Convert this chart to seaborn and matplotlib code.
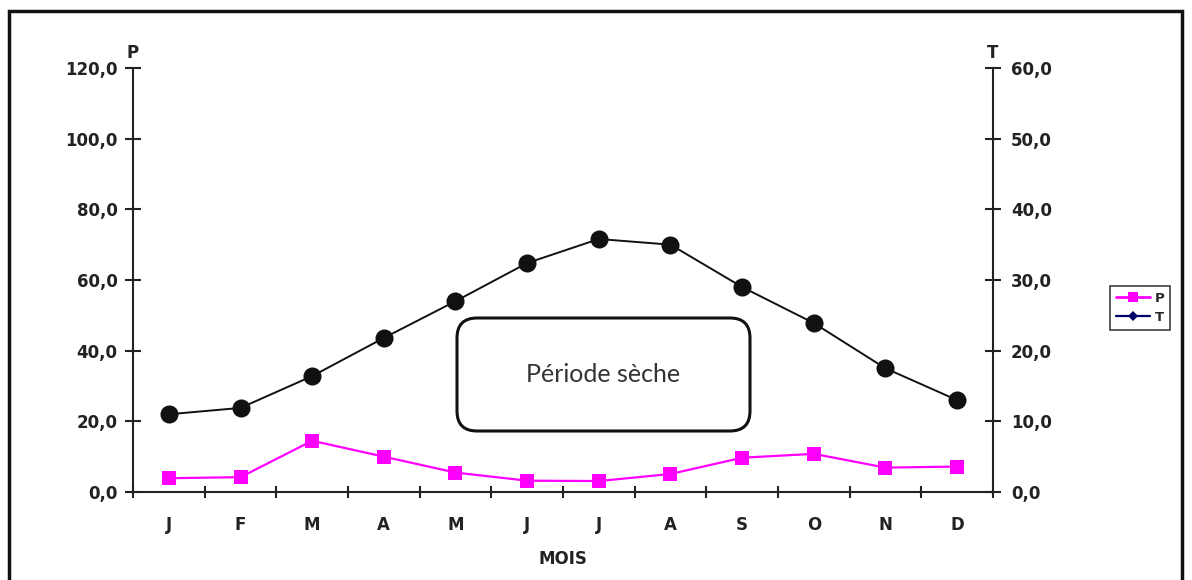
import numpy as np
import pandas as pd
import seaborn as sns
import matplotlib
matplotlib.use("Agg")
import matplotlib.pyplot as plt
from matplotlib.patches import FancyBboxPatch, Rectangle
from matplotlib.lines import Line2D

# ---- data ----
months = ['J', 'F', 'M', 'A', 'M', 'J', 'J', 'A', 'S', 'O', 'N', 'D']
precip = [3.9, 4.2, 14.5, 10.0, 5.5, 3.2, 3.1, 5.1, 9.7, 10.8, 6.9, 7.2]
temp = [11.0, 11.9, 16.4, 21.8, 27.0, 32.4, 35.8, 35.0, 29.0, 23.9, 17.5, 13.0]
left_ticks = [0, 20, 40, 60, 80, 100, 120]
right_ticks = [0, 10, 20, 30, 40, 50, 60]

sns.set_style("white")
plt.rcParams['font.family'] = ['DejaVu Sans']

df = pd.DataFrame({'pos': np.arange(len(months)) + 0.5, 'P': precip, 'T': temp})

fig = plt.figure(figsize=(11.92, 5.8), dpi=100)
ax = fig.add_axes([133/1192, 1 - 492/580, (993-133)/1192, (492-68)/580])
ax2 = ax.twinx()

dark = '#222222'
sns.lineplot(data=df, x='pos', y='P', ax=ax, color='#ff00ff', marker='s',
             markersize=10, markeredgewidth=0, linewidth=1.6)
sns.lineplot(data=df, x='pos', y='T', ax=ax2, color='#111111', marker='o',
             markersize=13, markeredgewidth=0, linewidth=1.4)

ax.set_xlim(0, 12)
ax.set_ylim(0, 120)
ax2.set_ylim(0, 60)

fmt = lambda v: f"{v:.1f}".replace('.', ',')
ax.set_yticks(left_ticks)
ax.set_yticklabels([fmt(v) for v in left_ticks])
ax2.set_yticks(right_ticks)
ax2.set_yticklabels([fmt(v) for v in right_ticks])

ax.set_xticks(np.arange(0, 13))
ax.set_xticklabels([])
ax.set_xticks(np.arange(len(months)) + 0.5, minor=True)
ax.set_xticklabels(months, minor=True)

for a in (ax, ax2):
    for s in a.spines.values():
        s.set_color(dark)
        s.set_linewidth(1.5)
    a.spines['top'].set_visible(False)
    a.set_xlabel('')
    a.set_ylabel('')
ax.spines['right'].set_visible(False)
ax2.spines['left'].set_visible(False)
ax2.spines['bottom'].set_visible(False)

tick_font = dict(fontsize=12, fontweight='bold', color='#222222')
ax.tick_params(axis='y', direction='inout', length=12, width=1.5, color=dark, pad=5,
               labelsize=12, labelcolor='#222222', left=True)
ax2.tick_params(axis='y', direction='inout', length=12, width=1.5, color=dark, pad=7,
                labelsize=12, labelcolor='#222222', right=True)
ax.tick_params(axis='x', which='major', direction='inout', length=8, width=1.5, color=dark, bottom=True)
ax.tick_params(axis='x', which='minor', length=0, pad=17, labelsize=12, labelcolor='#222222')
for lab in ax.get_yticklabels() + ax2.get_yticklabels() + ax.get_xticklabels(minor=True):
    lab.set_fontweight('bold')

ax.grid(False)
ax2.grid(False)

# axis captions
ax.text(0, 1.015, 'P', transform=ax.transAxes, ha='center', va='bottom', **tick_font)
ax2.text(1, 1.015, 'T', transform=ax2.transAxes, ha='center', va='bottom', **tick_font)
ax.text(0.5, -0.157, 'MOIS', transform=ax.transAxes, ha='center', va='center', **tick_font)

# dry period box
box = FancyBboxPatch((4.57, 1.49), 2.93, 1.13, boxstyle='round,pad=0,rounding_size=0.2',
                     transform=fig.dpi_scale_trans, facecolor='white', edgecolor='#111111',
                     linewidth=2.2, zorder=5)
fig.patches.append(box)
fig.text((4.57 + 2.93/2) / 11.92, (1.49 + 1.13/2) / 5.8, 'Période sèche', ha='center', va='center',
         fontsize=18, family='Lato', color='#333333', zorder=6)

# legend
handles = [Line2D([0], [0], color='#ff00ff', marker='s', markersize=7, linewidth=2, markeredgewidth=0),
           Line2D([0], [0], color='#000066', marker='D', markersize=5, linewidth=1.6, markeredgewidth=0)]
leg = fig.legend(handles, ['P', 'T'], loc='center', bbox_to_anchor=(1140/1192, 1 - 308/580),
                 frameon=True, fancybox=False, handlelength=2.6, handletextpad=0.35,
                 borderpad=0.45, labelspacing=0.45, prop=dict(size=9.5, weight='bold'))
leg.get_frame().set_edgecolor('#222222')
leg.get_frame().set_linewidth(1.3)

# outer frame
fig.patches.append(Rectangle((9/1192, -0.05), (1182-9)/1192, 1.05 - 11/580, transform=fig.transFigure,
                             fill=False, edgecolor='#111111', linewidth=2.5))

fig.savefig('out.png', dpi=100)
